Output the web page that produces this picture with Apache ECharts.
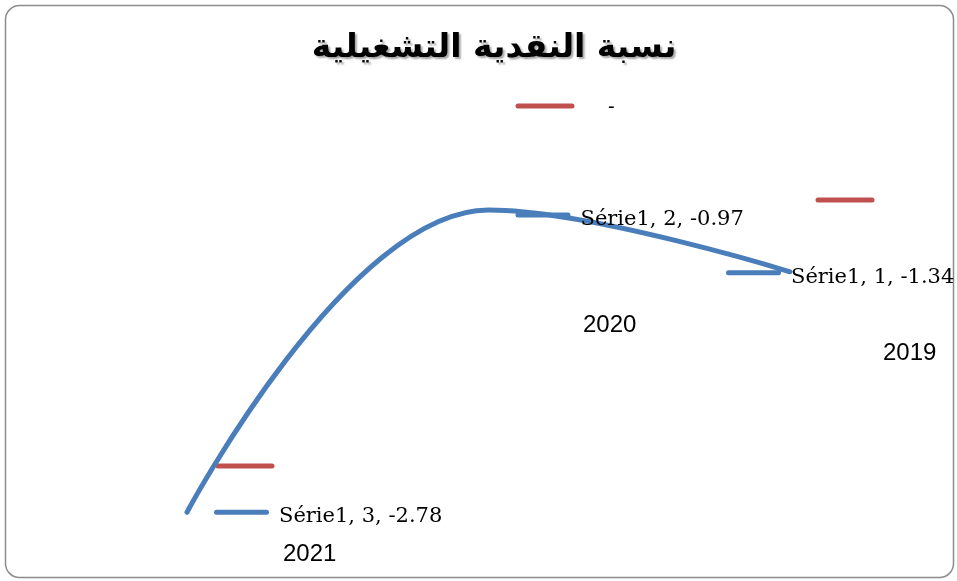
<!DOCTYPE html>
<html>
<head>
<meta charset="utf-8">
<script src="https://cdn.jsdelivr.net/npm/echarts@6/dist/echarts.min.js"></script>
<style>
  html, body { margin: 0; padding: 0; background: #fff; }
  #chart { width: 957px; height: 581px; }
</style>
</head>
<body>
<div id="chart"></div>
<script>
// values
const years = ['2021', '2020', '2019']
const serieIndex = [3, 2, 1]
const values = [-2.78, -0.97, -1.34]
const titleText = 'نسبة النقدية التشغيلية'

const blue = '#4a7ebb'
const red = '#c0504d'

// where each point's label (marker + text) sits relative to the point
const labelPos = [[28, -14], [28, -9], [-63, -13]]

const chart = echarts.init(document.getElementById('chart'))

const seriesData = values.map((v, i) => ({
  value: v,
  label: {
    position: labelPos[i]
  }
}))

const redDash = (x, y) => ({
  type: 'line',
  shape: { x1: x, y1: y, x2: x + 54, y2: y },
  style: { stroke: red, lineWidth: 5, lineCap: 'round' }
})

const yearText = (txt, x, y) => ({
  type: 'text',
  left: x,
  top: y,
  style: { text: txt, font: '24px "Liberation Sans", Arial, sans-serif', fill: '#000' }
})

const options = {
  animation: false,
  backgroundColor: '#fff',
  title: {
    text: titleText,
    left: 489,
    top: 27,
    textAlign: 'center',
    textStyle: {
      fontFamily: '"DejaVu Sans", sans-serif',
      fontSize: 33,
      fontWeight: 'bold',
      color: '#000',
      textShadowColor: 'rgba(0,0,0,0.35)',
      textShadowBlur: 2,
      textShadowOffsetX: 2,
      textShadowOffsetY: 2
    }
  },
  grid: {
    left: 187,
    right: 167,
    top: 48,
    bottom: 32
  },
  xAxis: {
    type: 'category',
    data: years,
    boundaryGap: false,
    show: false
  },
  yAxis: {
    type: 'value',
    min: -3,
    max: 0,
    show: false
  },
  series: [
    {
      name: 'Série1',
      type: 'line',
      smooth: 0.4,
      showSymbol: true,
      symbol: 'circle',
      symbolSize: 2,
      itemStyle: { color: blue, borderWidth: 0 },
      lineStyle: { color: blue, width: 5, cap: 'round' },
      data: seriesData,
      labelLayout: { hideOverlap: false },
      label: {
        show: true,
        formatter: p => '{m|}{t|Série1, ' + serieIndex[p.dataIndex] + ', ' + values[p.dataIndex].toFixed(2) + '}',
        rich: {
          m: {
            width: 55,
            height: 5,
            backgroundColor: blue,
            borderRadius: 3
          },
          t: {
            fontFamily: '"DejaVu Serif", "Liberation Serif", serif',
            fontSize: 21,
            color: '#000',
            padding: [9, 0, 0, 10]
          }
        }
      }
    }
  ],
  graphic: [
    {
      type: 'rect',
      shape: { x: 5.5, y: 5.5, width: 948, height: 572, r: 14 },
      style: { fill: 'none', stroke: '#8c8c8c', lineWidth: 1.5 },
      z: -1
    },
    redDash(518, 106),
    redDash(818, 200),
    redDash(218, 466),
    {
      type: 'text',
      left: 608,
      top: 97,
      style: { text: '-', font: '20px "Liberation Sans", Arial, sans-serif', fill: '#000' }
    },
    yearText(years[0], 283, 542),
    yearText(years[1], 583, 313),
    yearText(years[2], 883, 341)
  ]
}

chart.setOption(options)
</script>
</body>
</html>
